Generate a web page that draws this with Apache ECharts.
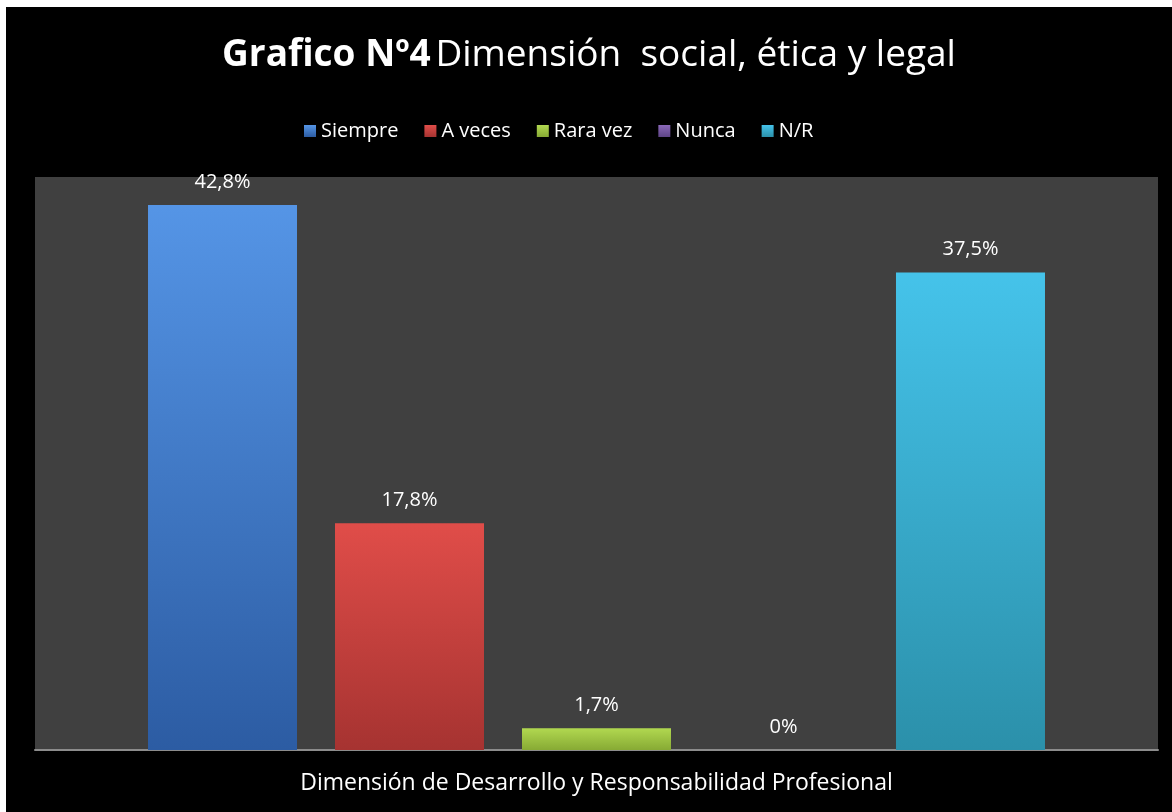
<!DOCTYPE html>
<html>
<head>
<meta charset="utf-8">
<script src="https://cdn.jsdelivr.net/npm/echarts@6/dist/echarts.min.js"></script>
<style>
  html, body { margin: 0; padding: 0; background: #fff; }
  #chart { position: absolute; left: 6px; top: 7px; width: 1166px; height: 805px; }
</style>
</head>
<body>
<div id="chart"></div>
<script>
// datos del gráfico
var categorias = ['Dimensión de Desarrollo y Responsabilidad Profesional'];
var series = ['Siempre', 'A veces', 'Rara vez', 'Nunca', 'N/R'];
var valores = [42.8, 17.8, 1.7, 0, 37.5];
var etiquetas = ['42,8%', '17,8%', '1,7%', '0%', '37,5%'];
var colores = [
  ['#5595e6', '#2c5ca3'],
  ['#e04d49', '#a63331'],
  ['#b1d850', '#87aa34'],
  ['#8a68b8', '#5e4486'],
  ['#45c3ea', '#2b90aa']
];

var myChart = echarts.init(document.getElementById('chart'));

var fuente = 'Open Sans';

var option = {
  backgroundColor: '#000',
  textStyle: { fontFamily: fuente },
  title: {
    text: '{b|Grafico Nº4} {n|Dimensión  social, ética y legal}',
    left: 'center',
    top: 25,
    textStyle: {
      rich: {
        b: { fontFamily: fuente, fontWeight: 'bold', fontSize: 37, color: '#fff' },
        n: { fontFamily: fuente, fontWeight: 'normal', fontSize: 37, color: '#fff' }
      }
    }
  },
  legend: {
    top: 109,
    left: 293,
    itemWidth: 12,
    itemHeight: 12,
    itemGap: 26,
    icon: 'rect',
    textStyle: { color: '#fff', fontSize: 20, fontFamily: fuente },
    data: series
  },
  grid: {
    left: 29,
    right: 14,
    top: 170,
    bottom: 62,
    show: true,
    backgroundColor: '#404040',
    borderWidth: 0
  },
  xAxis: {
    type: 'category',
    data: categorias,
    axisLine: { lineStyle: { color: '#8c8c8c', width: 2 } },
    axisTick: { show: false },
    axisLabel: { color: '#fff', fontSize: 23, margin: 22, fontFamily: fuente }
  },
  yAxis: {
    type: 'value',
    min: 0,
    max: 45,
    show: false
  },
  series: series.map(function (nombre, i) {
    return {
      name: nombre,
      type: 'bar',
      barWidth: 149,
      barGap: '25.5%',
      data: [valores[i]],
      itemStyle: {
        color: new echarts.graphic.LinearGradient(0, 0, 0, 1, [
          { offset: 0, color: colores[i][0] },
          { offset: 1, color: colores[i][1] }
        ])
      },
      label: {
        show: true,
        position: 'top',
        distance: 13,
        color: '#fff',
        fontSize: 20,
        fontFamily: fuente,
        formatter: function () { return etiquetas[i]; }
      }
    };
  })
};

myChart.setOption(option);
</script>
</body>
</html>
